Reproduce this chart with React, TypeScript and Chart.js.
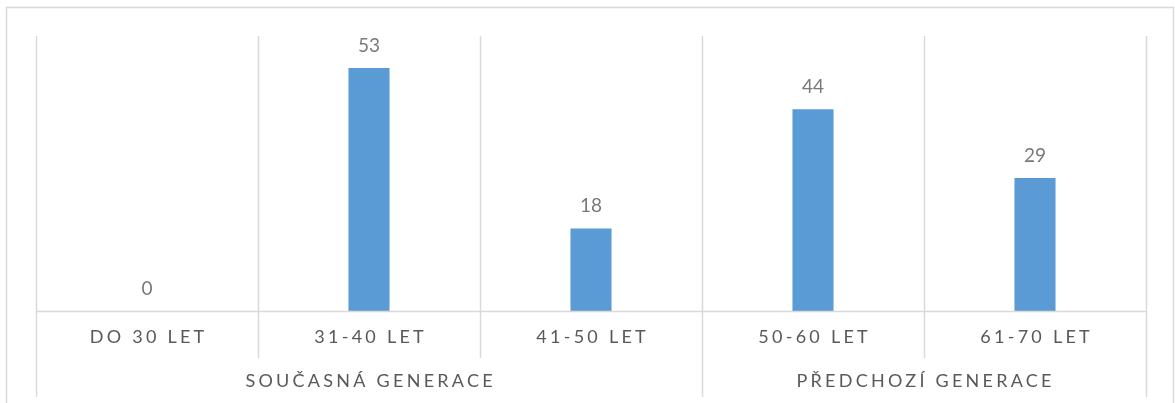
import React, { useEffect, useRef } from "react";
import { Chart, registerables } from "chart.js";

Chart.register(...registerables);

const categories = ["DO 30 LET", "31-40 LET", "41-50 LET", "50-60 LET", "61-70 LET"];
const groups = ["SOUČASNÁ GENERACE", "PŘEDCHOZÍ GENERACE"];
const groupSizes = [3, 2];
const values = [0, 53, 18, 44, 29];
const yMax = 60;

const FONT = "Lato, 'Open Sans', sans-serif";
const GRID = "#d9d9d9";

const overlay = {
  id: "overlay",
  afterDatasetsDraw(chart: any) {
    const ctx = chart.ctx as CanvasRenderingContext2D;
    const { left, right, top, bottom } = chart.chartArea;
    const x = chart.scales.x;
    const n = categories.length;
    const half = (x.getPixelForValue(1) - x.getPixelForValue(0)) / 2;
    const bound = (i: number) => (i < n ? x.getPixelForValue(i) - half : x.getPixelForValue(n - 1) + half);
    ctx.save();
    // outer border
    ctx.strokeStyle = GRID;
    ctx.lineWidth = 1.5;
    ctx.strokeRect(6.5, 7.5, 1167, 420);
    // group boundary indices
    const groupBounds = new Set<number>([0]);
    let acc = 0;
    groupSizes.forEach((s) => { acc += s; groupBounds.add(acc); });
    ctx.lineWidth = 1.5;
    for (let i = 0; i <= n; i++) {
      const bx = Math.round(bound(i)) + 0.5;
      ctx.beginPath();
      ctx.moveTo(bx, top);
      ctx.lineTo(bx, groupBounds.has(i) ? bottom + 86 : bottom + 47);
      ctx.stroke();
    }
    ctx.beginPath();
    ctx.moveTo(left, Math.round(bottom) + 0.5);
    ctx.lineTo(right, Math.round(bottom) + 0.5);
    ctx.stroke();

    // data labels
    const meta = chart.getDatasetMeta(0);
    ctx.fillStyle = "#7a7a7a";
    ctx.font = `19px ${FONT}`;
    ctx.textAlign = "center";
    ctx.textBaseline = "bottom";
    (ctx as any).letterSpacing = "0px";
    meta.data.forEach((bar: any, i: number) => {
      ctx.fillText(String(values[i]), bar.x, bar.y - 13);
    });

    // category labels
    const sp = 3.25;
    (ctx as any).letterSpacing = `${sp}px`;
    ctx.fillStyle = "#595959";
    ctx.font = `18px ${FONT}`;
    ctx.textBaseline = "middle";
    categories.forEach((c, i) => {
      ctx.fillText(c, x.getPixelForValue(i) + sp / 2, bottom + 26);
    });
    let start = 0;
    groupSizes.forEach((s, g) => {
      const cx = (bound(start) + bound(start + s)) / 2;
      ctx.fillText(groups[g], cx + sp / 2, bottom + 70);
      start += s;
    });
    ctx.restore();
  },
};

export default function App() {
  const ref = useRef<HTMLCanvasElement>(null);
  useEffect(() => {
    const chart = new Chart(ref.current!, {
      type: "bar",
      data: {
        labels: categories,
        datasets: [
          {
            data: values,
            backgroundColor: "#5b9bd5",
            barPercentage: 0.185,
            categoryPercentage: 1,
          },
        ],
      },
      options: {
        animation: false,
        responsive: false,
        devicePixelRatio: 1,
        layout: { padding: { left: 36, right: 29, top: 36, bottom: 92 } },
        plugins: { legend: { display: false }, tooltip: { enabled: false } },
        scales: {
          x: { display: false },
          y: { display: false, min: 0, max: yMax },
        },
      },
      plugins: [overlay],
    });
    return () => chart.destroy();
  }, []);
  return (
    <div style={{ position: "fixed", left: 0, top: 0, width: 1175, height: 403, background: "#fff" }}>
      <canvas ref={ref} width={1175} height={403} />
    </div>
  );
}
